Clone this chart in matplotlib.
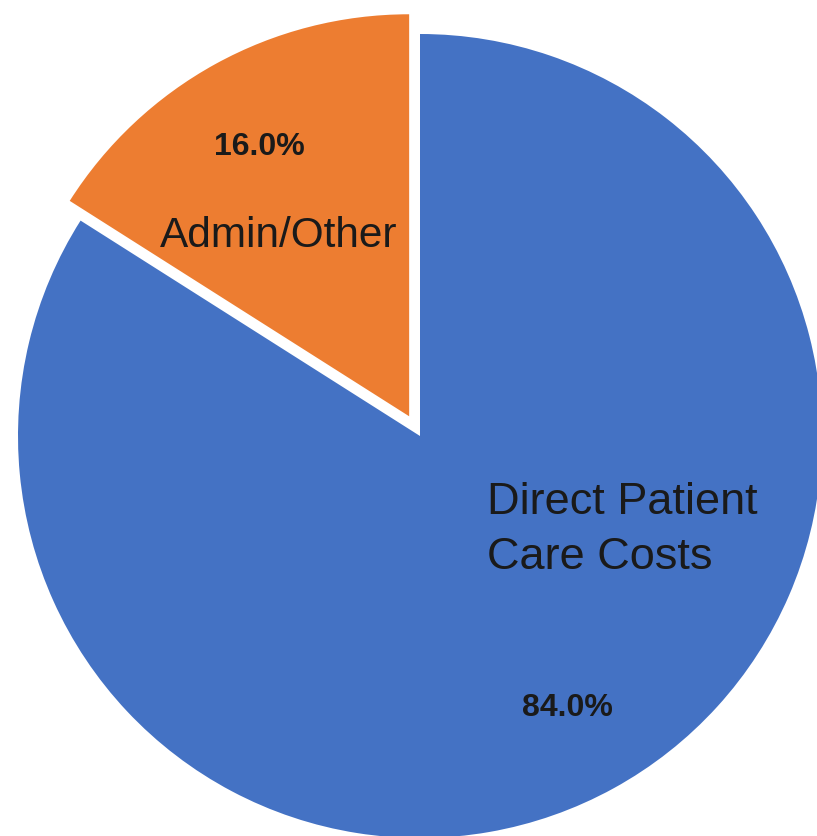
import matplotlib
matplotlib.use("Agg")
import matplotlib.pyplot as plt

categories = ["Direct Patient\nCare Costs", "Admin/Other"]
values = [84.0, 16.0]
colors = ["#4472C4", "#ED7D31"]
explode = [0.0, 0.056]

W, H = 817, 837
fig = plt.figure(figsize=(W / 100, H / 100), dpi=100)
ax = fig.add_axes([0, 0, 1, 1])

cx, cy, R = 420.0, 437.0, 402.0  # pixel geometry of the pie

ax.pie(values, colors=colors, explode=explode, startangle=90, counterclock=False,
       radius=1.0, center=(0, 0),
       wedgeprops=dict(linewidth=0, edgecolor="white"))

def px(x, y):
    return (x - cx) / R, (cy - y) / R

ax.set_xlim(-cx / R, (W - cx) / R)
ax.set_ylim(-(H - cy) / R, cy / R)
ax.set_aspect("equal", adjustable="datalim")
ax.axis("off")

txt = "#1a1a1a"
x, y = px(279, 236)
ax.text(x, y, categories[1], ha="center", va="center", fontsize=30.5,
        family="Liberation Sans", color=txt)
x, y = px(259.5, 147)
ax.text(x, y, f"{values[1]:.1f}%", ha="center", va="center", fontsize=23,
        family="Liberation Sans", fontweight="bold", color=txt)
x, y = px(487, 530)
ax.text(x, y, categories[0], ha="left", va="center", fontsize=32.5,
        family="Liberation Sans", color=txt, linespacing=1.42)
x, y = px(567, 708)
ax.text(x, y, f"{values[0]:.1f}%", ha="center", va="center", fontsize=23,
        family="Liberation Sans", fontweight="bold", color=txt)

fig.savefig("out.png", dpi=100)
